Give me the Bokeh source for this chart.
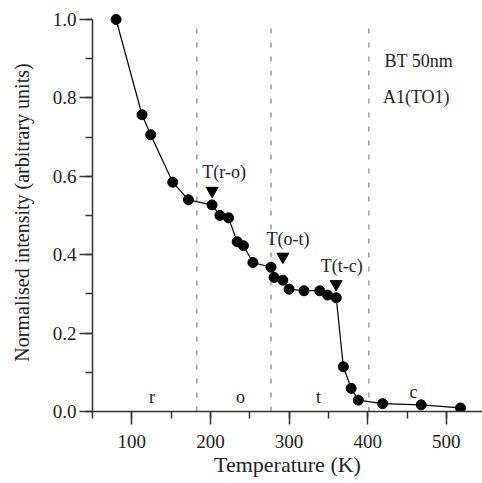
from bokeh.plotting import figure
from bokeh.models import SingleIntervalTicker, PrintfTickFormatter, Range1d, ColumnDataSource
from bokeh.core.properties import value
from bokeh.embed import file_html
from bokeh.resources import INLINE

temps = [80, 113, 124, 152, 172, 202, 212, 223, 234, 242, 254, 277, 281, 292, 300,
         319, 339, 349, 360, 369, 379, 388, 419, 468, 518]
vals = [1.0, 0.757, 0.706, 0.585, 0.540, 0.527, 0.500, 0.494, 0.433, 0.423, 0.380,
        0.368, 0.342, 0.335, 0.312, 0.308, 0.308, 0.297, 0.290, 0.114, 0.059, 0.029,
        0.020, 0.017, 0.009]

transitions = [182.7, 277, 401.5]
trans_labels = ["T(r-o)", "T(o-t)", "T(t-c)"]
trans_marker_x = [202.2, 292.1, 359.9]
trans_marker_y = [0.563, 0.395, 0.325]
trans_text_x = [217.4, 298.5, 366.9]
trans_text_y = [0.612, 0.441, 0.371]

phase_labels = ["r", "o", "t", "c"]
phase_x = [125.8, 238.2, 337.4, 458.3]
phase_y = [0.036, 0.036, 0.036, 0.050]

info_labels = ["BT 50nm", "A1(TO1)"]
info_x = [421.4, 419.3]
info_y = [0.893, 0.802]

FONT = "Liberation Serif"
TXT = "#222222"

p = figure(width=482, height=483, output_backend="svg", toolbar_location=None,
           x_range=Range1d(50, 546), y_range=Range1d(0, 1.0153),
           min_border_left=92, min_border_right=0, min_border_top=13, min_border_bottom=72)
p.outline_line_color = None
p.xgrid.visible = False
p.ygrid.visible = False
p.background_fill_color = None

# dashed transition lines
p.segment(x0=transitions, y0=[0] * 3, x1=transitions, y1=[1.0] * 3,
          line_color="#888888", line_width=1.3, line_dash="5 9")

src = ColumnDataSource(dict(x=temps, y=vals))
p.line("x", "y", source=src, line_color="black", line_width=1.2)
p.scatter("x", "y", source=src, size=10, fill_color="black", line_color="black")

p.scatter(trans_marker_x, trans_marker_y, marker="inverted_triangle", size=12,
          fill_color="black", line_color="black")
p.text(trans_text_x, trans_text_y, text=trans_labels, text_font=value(FONT),
       text_font_size="18px", text_align="center", text_baseline="middle", text_color=TXT)
p.text(phase_x, phase_y, text=phase_labels, text_font=value(FONT),
       text_font_size="18px", text_align="center", text_baseline="middle", text_color=TXT)
p.text(info_x, info_y, text=info_labels, text_font=value(FONT),
       text_font_size="18px", text_align="left", text_baseline="middle", text_color=TXT)

xa = p.xaxis[0]
xa.ticker = SingleIntervalTicker(interval=100, num_minor_ticks=2)
xa.bounds = (50, 546)
ya = p.yaxis[0]
ya.ticker = SingleIntervalTicker(interval=0.2, num_minor_ticks=2)
ya.formatter = PrintfTickFormatter(format="%.1f")
ya.bounds = (0, 1.0)

for ax in (xa, ya):
    ax.axis_line_color = "#333333"
    ax.axis_line_width = 1.5
    ax.major_tick_line_color = "#333333"
    ax.minor_tick_line_color = "#333333"
    ax.major_tick_line_width = 1.5
    ax.minor_tick_line_width = 1.5
    ax.major_tick_in = 0
    ax.major_tick_out = 13
    ax.minor_tick_in = 0
    ax.minor_tick_out = 7
    ax.major_label_text_font = FONT
    ax.major_label_text_font_size = "19px"
    ax.major_label_text_color = TXT
    ax.axis_label_text_font = FONT
    ax.axis_label_text_font_style = "normal"
    ax.axis_label_text_color = TXT

xa.axis_label = "Temperature (K)"
xa.axis_label_text_font_size = "22px"
xa.major_label_standoff = 10
xa.axis_label_standoff = 1
ya.axis_label = "Normalised intensity (arbitrary units)"
ya.axis_label_text_font_size = "20px"
ya.major_label_standoff = 3
ya.axis_label_standoff = 17

open("out.html", "w").write(file_html(p, INLINE))
